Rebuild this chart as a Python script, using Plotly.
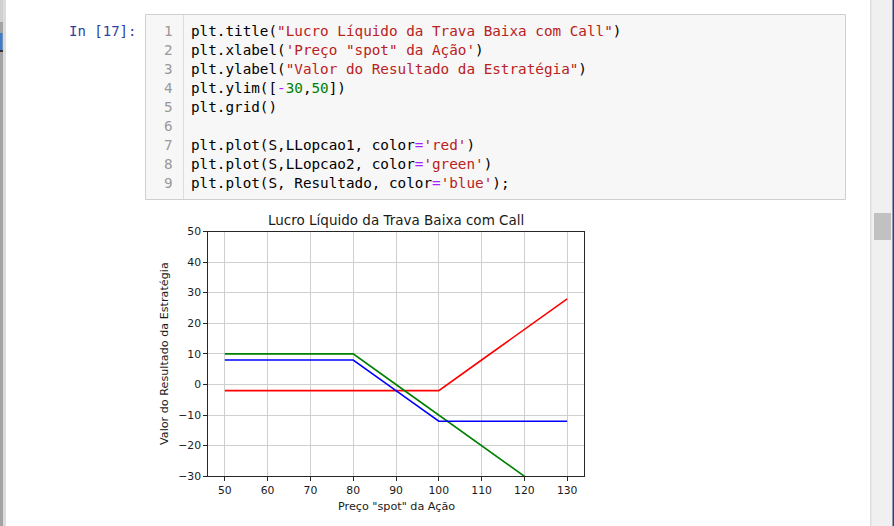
import plotly.graph_objects as go

# ---- data ----
S = [50, 60, 70, 80, 90, 100, 110, 120, 130]
LLopcao1 = [-2, -2, -2, -2, -2, -2, 8, 18, 28]
LLopcao2 = [10, 10, 10, 10, 0, -10, -20, -30, -40]
Resultado = [8, 8, 8, 8, -2, -12, -12, -12, -12]
x_ticks = [50, 60, 70, 80, 90, 100, 110, 120, 130]
y_ticks = [-30, -20, -10, 0, 10, 20, 30, 40, 50]
y_labels = ["\u221230", "\u221220", "\u221210", "0", "10", "20", "30", "40", "50"]

title = "Lucro Líquido da Trava Baixa com Call"
xlabel = 'Preço "spot" da Ação'
ylabel = "Valor do Resultado da Estratégia"

W, H = 894, 526


def px(x):
    return x / W


def py(y):
    return 1 - y / H


STR = "#BA2121"
NUM = "#008000"
OP = "#AA22FF"


def s(t, c):
    return f'<span style="color:{c}">{t}</span>'


code_lines = [
    "plt.title(" + s('"Lucro Líquido da Trava Baixa com Call"', STR) + ")",
    "plt.xlabel(" + s("'Preço \"spot\" da Ação'", STR) + ")",
    "plt.ylabel(" + s('"Valor do Resultado da Estratégia"', STR) + ")",
    "plt.ylim([" + s("-", OP) + s("30", NUM) + "," + s("50", NUM) + "])",
    "plt.grid()",
    "",
    "plt.plot(S,LLopcao1, color" + s("=", OP) + s("'red'", STR) + ")",
    "plt.plot(S,LLopcao2, color" + s("=", OP) + s("'green'", STR) + ")",
    "plt.plot(S, Resultado, color" + s("=", OP) + s("'blue'", STR) + ");",
]

fig = go.Figure()
fig.add_trace(go.Scatter(x=S, y=LLopcao1, mode="lines", line=dict(color="red", width=1.6)))
fig.add_trace(go.Scatter(x=S, y=LLopcao2, mode="lines", line=dict(color="green", width=1.6)))
fig.add_trace(go.Scatter(x=S, y=Resultado, mode="lines", line=dict(color="blue", width=1.6)))

shapes = []
# code cell box
shapes.append(dict(type="rect", xref="paper", yref="paper", x0=px(145.5), x1=px(845.5), y0=py(199.5), y1=py(14.5),
                   fillcolor="#f7f7f7", line=dict(color="#cfcfcf", width=1), layer="below"))
# gutter separator
shapes.append(dict(type="line", xref="paper", yref="paper", x0=px(183.5), x1=px(183.5), y0=py(199), y1=py(15),
                   line=dict(color="#dddddd", width=1), layer="below"))
# scrollbar track
shapes.append(dict(type="rect", xref="paper", yref="paper", x0=px(870), x1=px(894), y0=0, y1=1,
                   fillcolor="#f0f0f0", line=dict(width=0), layer="below"))
shapes.append(dict(type="rect", xref="paper", yref="paper", x0=px(870), x1=px(871.5), y0=0, y1=1,
                   fillcolor="#dedede", line=dict(width=0), layer="below"))
shapes.append(dict(type="rect", xref="paper", yref="paper", x0=px(874), x1=px(891), y0=py(240), y1=py(213),
                   fillcolor="#c1c1c1", line=dict(width=0), layer="below"))
shapes.append(dict(type="rect", xref="paper", yref="paper", x0=px(892.5), x1=px(894), y0=0, y1=1,
                   fillcolor="#2e3f7a", line=dict(width=0), layer="below"))
# left window edge
shapes.append(dict(type="rect", xref="paper", yref="paper", x0=0, x1=px(3), y0=0, y1=1,
                   fillcolor="#a3a3a3", line=dict(width=0), layer="below"))
shapes.append(dict(type="rect", xref="paper", yref="paper", x0=px(3), x1=px(6), y0=0, y1=1,
                   fillcolor="#dcdcdc", line=dict(width=0), layer="below"))
shapes.append(dict(type="rect", xref="paper", yref="paper", x0=0, x1=px(3), y0=py(22), y1=1,
                   fillcolor="#d0d0d0", line=dict(width=0), layer="below"))
shapes.append(dict(type="rect", xref="paper", yref="paper", x0=0, x1=px(2.5), y0=py(50), y1=py(33),
                   fillcolor="#3d7cc9", line=dict(width=0), layer="below"))
shapes.append(dict(type="rect", xref="paper", yref="paper", x0=0, x1=px(3), y0=py(52), y1=py(50),
                   fillcolor="#333333", line=dict(width=0), layer="below"))

annotations = []
MONO = "DejaVu Sans Mono"
annotations.append(dict(text="In [17]:", xref="paper", yref="paper", x=px(138), y=py(30.7),
                        xanchor="right", yanchor="middle", showarrow=False,
                        font=dict(family=MONO, size=14, color="#303F9F")))
for i, line in enumerate(code_lines):
    yc = 30.7 + i * 19.08
    annotations.append(dict(text=str(i + 1), xref="paper", yref="paper", x=px(174.5), y=py(yc),
                            xanchor="right", yanchor="middle", showarrow=False,
                            font=dict(family=MONO, size=14.3, color="#999999")))
    if line:
        annotations.append(dict(text=line, xref="paper", yref="paper", x=px(189), y=py(yc),
                                xanchor="left", yanchor="middle", showarrow=False, align="left",
                                font=dict(family=MONO, size=14.3, color="#000000")))

CHART_FONT = "DejaVu Sans"
annotations.append(dict(text=title, xref="paper", yref="paper", x=px(396), y=py(220.5),
                        xanchor="center", yanchor="middle", showarrow=False,
                        font=dict(family=CHART_FONT, size=13.5, color="#1a1a1a")))
annotations.append(dict(text=xlabel, xref="paper", yref="paper", x=px(396), y=py(506),
                        xanchor="center", yanchor="middle", showarrow=False,
                        font=dict(family=CHART_FONT, size=11.2, color="#1a1a1a")))
annotations.append(dict(text=ylabel, xref="paper", yref="paper", x=px(164), y=py(354),
                        xanchor="center", yanchor="middle", showarrow=False, textangle=-90,
                        font=dict(family=CHART_FONT, size=11.2, color="#1a1a1a")))

axis_common = dict(showline=True, linecolor="#262626", linewidth=1, mirror=True,
                   showgrid=True, gridcolor="#cfcfcf", gridwidth=1, zeroline=False,
                   automargin=False,
                   ticks="outside", ticklen=3.5, tickwidth=1, tickcolor="#262626",
                   tickfont=dict(family=CHART_FONT, size=10.8, color="#1a1a1a"))

fig.update_layout(
    width=W, height=H,
    autosize=False,
    margin=dict(l=0, r=0, t=0, b=0, pad=0),
    paper_bgcolor="white", plot_bgcolor="white",
    showlegend=False,
    shapes=shapes,
    annotations=annotations,
    xaxis=dict(domain=[px(207.7), px(584.3)], range=[46, 134], tickvals=x_ticks, **axis_common),
    yaxis=dict(domain=[1 - 476.3 / H, 1 - 231.5 / H], range=[-30, 50], tickvals=y_ticks,
               ticktext=y_labels, **axis_common),
)

fig.write_html(
    "out.html",
    config={"displayModeBar": False, "responsive": False},
    post_script="document.body.style.margin='0';document.body.style.overflow='hidden';",
)
